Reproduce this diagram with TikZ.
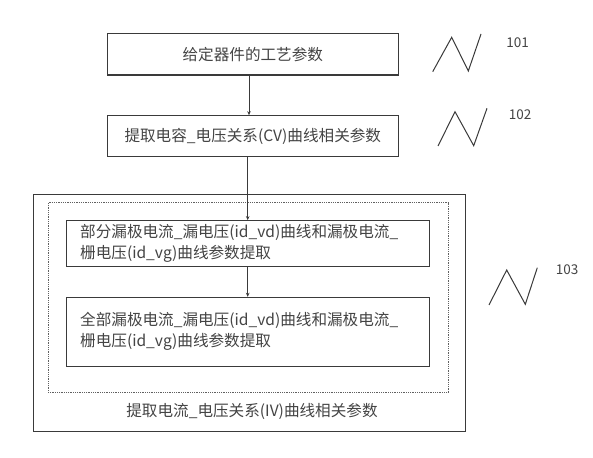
\documentclass[tikz,border=0pt]{standalone}
\usepackage{fontspec}
\setmainfont{Noto Sans CJK SC}
\usetikzlibrary{arrows.meta,calc}
\definecolor{ln}{HTML}{3A3A3A}
\definecolor{tx}{HTML}{444444}
\tikzset{
  box/.style={draw=ln, line width=1.1pt, rectangle, inner sep=0pt, text=tx,
    font=\fontsize{15.6}{21}\selectfont},
  lbox/.style={box, align=left, text width=335pt},
  zig/.style={draw=ln, line width=1pt},
  num/.style={text=tx, font=\fontsize{13.5}{16}\selectfont, inner sep=0pt},
  conn/.style={draw=ln, line width=0.9pt, -{Stealth[length=4pt,width=3.5pt]}}
}
\begin{document}
\begin{tikzpicture}[x=1pt,y=-1pt]
\useasboundingbox (0,0) rectangle (593,457);
\fill[white] (0,0) rectangle (593,457);
% outer and dotted containers
\node[box, minimum width=432pt, minimum height=236.5pt] (outer) at (249.3,312.8) {};
\node[draw=ln!80, line width=0.8pt, dash pattern=on 0.9pt off 0.9pt, rectangle, inner sep=0pt,
  minimum width=400.7pt, minimum height=190pt] (dot) at (248.4,297.7) {};
\node[text=tx, font=\fontsize{15.6}{21}\selectfont, inner sep=0pt] (ivlabel) at (252,411.7) {提取电流\_电压关系(IV)曲线相关参数};
% boxes
\node[box, minimum width=291pt, minimum height=41.7pt] (b1) at (252.8,54.2) {给定器件的工艺参数};
\node[box, minimum width=291pt, minimum height=41pt] (b2) at (252.8,136.2) {提取电容\_电压关系(CV)曲线相关参数};
\node[lbox, minimum width=363.3pt, minimum height=46pt] (b3) at (247.7,243.7) {部分漏极电流\_漏电压(id\_vd)曲线和漏极电流\_\\栅电压(id\_vg)曲线参数提取};
\node[lbox, minimum width=363.3pt, minimum height=68.7pt] (b4) at (247.7,331.7) {全部漏极电流\_漏电压(id\_vd)曲线和漏极电流\_\\栅电压(id\_vg)曲线参数提取};
% connectors
\coordinate (ax) at (249,0);
\coordinate (ax2) at (247.7,0);
\draw[conn] (b1.south -| ax) -- (b2.north -| ax);
\draw[conn] (b2.south -| ax2) -- (b3.north -| ax2);
\draw[conn] (b3.south -| ax2) -- (b4.north -| ax2);
% zigzag markers
\draw[zig] (432.7,71.7) -- (451.7,37.3) -- (468.3,71) -- (481,34);
\node[num] (n101) at (517.7,42.3) {101};
\draw[zig] (438,146) -- (455,111.7) -- (473.7,145.7) -- (487,108.3);
\node[num] (n102) at (520,115) {102};
\draw[zig] (489,305) -- (506.7,270) -- (525.3,304.3) -- (537.3,267.7);
\node[num] (n103) at (567,270) {103};
\end{tikzpicture}
\end{document}
